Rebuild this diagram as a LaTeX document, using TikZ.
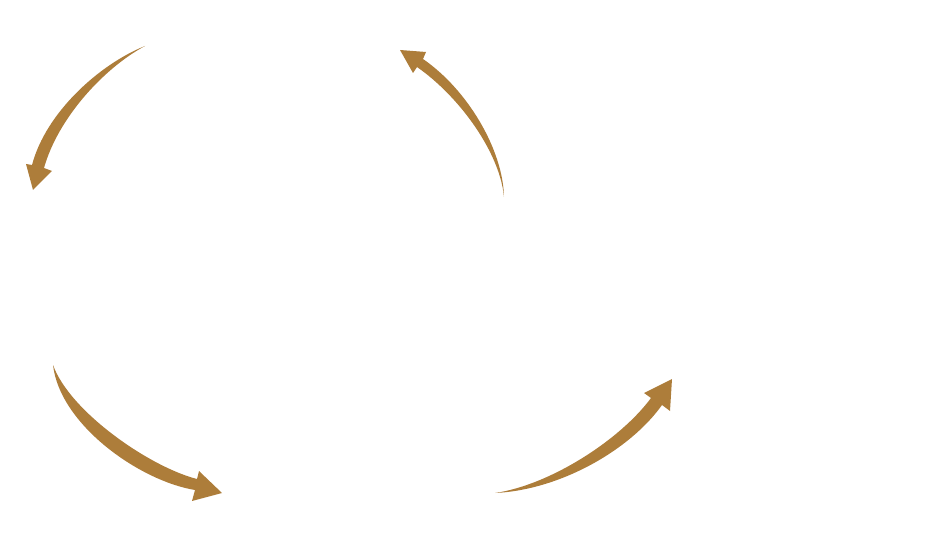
\documentclass[tikz,border=0pt]{standalone}
\definecolor{gold}{HTML}{AD7D3A}
\begin{document}
\begin{tikzpicture}[x=1pt,y=-1pt,arrowfill/.style={fill=gold,draw=none}]
\useasboundingbox (0,0) rectangle (940,540);
% top-left arrow
\fill[arrowfill] (145,46) .. controls (100,64) and (46,112) .. (32,165)
  -- (26,164) -- (33,190) -- (52,171) -- (44,168)
  .. controls (58,118) and (104,68) .. (145,46) -- cycle;
% top-middle arrow
\fill[arrowfill] (504,197) .. controls (503,150) and (468,90) .. (423,59)
  -- (426,52) -- (400,50) -- (413,73) -- (417,67)
  .. controls (460,97) and (500,153) .. (504,197) -- cycle;
% bottom-left arrow
\fill[arrowfill] (53,365) .. controls (70,412) and (150,467) .. (197,479)
  -- (199,471) -- (222,493) -- (192,501) -- (195,490)
  .. controls (140,481) and (60,425) .. (53,365) -- cycle;
% bottom-right arrow
\fill[arrowfill] (495,493) .. controls (550,485) and (620,440) .. (651,398)
  -- (644,393) -- (672,379) -- (670,411) -- (662,405)
  .. controls (630,450) and (560,490) .. (495,493) -- cycle;
\end{tikzpicture}
\end{document}
